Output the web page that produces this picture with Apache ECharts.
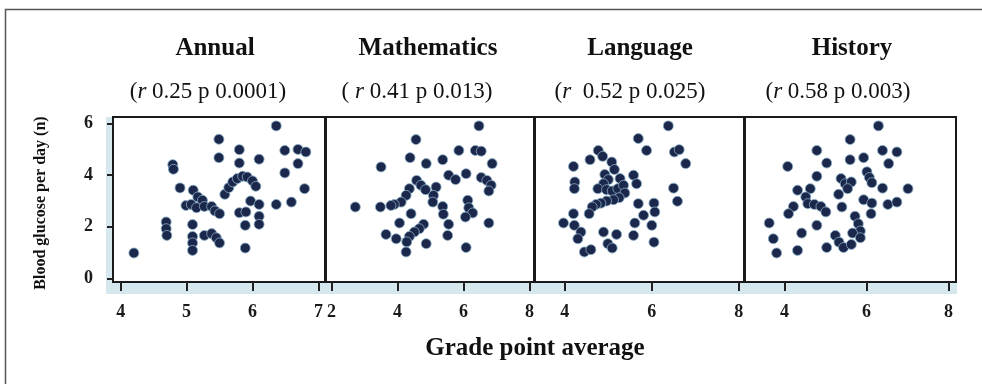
<!DOCTYPE html>
<html><head><meta charset="utf-8">
<script src="https://cdn.jsdelivr.net/npm/echarts@6/dist/echarts.min.js"></script>
<style>html,body{margin:0;padding:0;background:#fff}#c{width:982px;height:384px}</style>
</head><body><div id="c"></div>
<script>
const panelTitles = ['Annual', 'Mathematics', 'Language', 'History'];
const rValues = ['0.25', '0.41', '0.52', '0.58'];
const pValues = ['0.0001', '0.013', '0.025', '0.003'];
const xTicks = [[4, 5, 6, 7], [2, 4, 6, 8], [4, 6, 8], [4, 6, 8]];
const yTicks = [0, 2, 4, 6];
const xMins = [3.883, 1.83, 3.315, 3.04];
const xMaxs = [7.10, 8.14, 8.12, 8.18];
const yMin = -0.143, yMax = 6.244;
const yAxisTitle = 'Blood glucose per day (n)';
const xAxisTitle = 'Grade point average';

const annualPts = [
 [4.20,0.98],[6.36,5.90],[5.49,5.38],[5.49,4.67],[5.80,4.98],[5.80,4.46],[6.10,4.61],
 [4.79,4.40],[4.80,4.22],[4.90,3.50],[5.10,3.41],[5.17,3.15],[5.24,3.02],[4.99,2.82],
 [5.07,2.86],[5.15,2.73],[5.27,2.78],[5.38,2.78],[5.43,2.61],[5.50,2.50],[4.69,2.18],
 [4.69,1.92],[4.70,1.66],[5.09,2.08],[5.09,1.62],[5.09,1.37],[5.09,1.08],[5.27,1.66],
 [5.38,1.73],[5.45,1.57],[5.50,1.37],[5.89,1.17],[5.89,2.05],[5.80,2.54],[5.90,2.57],
 [6.10,2.40],[6.10,2.09],[5.97,2.99],[6.10,2.86],[5.58,3.25],[5.64,3.51],[5.70,3.73],
 [5.77,3.86],[5.85,3.95],[5.92,3.92],[6.00,3.77],[6.05,3.56],[6.36,2.86],[6.59,2.95],
 [6.79,3.47],[6.49,4.95],[6.49,4.08],[6.69,4.99],[6.81,4.89],[6.69,4.44]
];
const mathPts = [
 [2.72,2.76],[3.48,2.76],[3.50,4.31],[4.56,5.37],[4.38,4.67],[4.87,4.44],[5.37,4.59],
 [5.86,4.95],[6.36,4.95],[6.54,4.92],[6.47,5.90],[6.87,4.44],[5.55,3.99],[5.76,3.82],
 [6.08,4.05],[6.54,3.90],[6.71,3.79],[6.84,3.60],[6.77,3.38],[4.58,3.79],[4.71,3.60],
 [4.85,3.43],[4.36,3.47],[4.26,3.21],[4.11,2.95],[3.90,2.86],[3.80,2.82],[5.17,3.53],
 [5.09,3.21],[5.07,2.95],[4.41,2.50],[5.37,2.78],[5.39,2.48],[6.13,3.02],[6.16,2.73],
 [6.28,2.53],[6.06,2.37],[4.06,2.14],[4.79,2.09],[4.66,1.92],[4.51,1.79],[4.36,1.62],
 [4.28,1.41],[3.65,1.70],[3.96,1.53],[4.26,1.02],[4.87,1.34],[5.55,2.09],[5.52,1.66],
 [6.08,1.19],[6.77,2.14]
];
const langPts = [
 [6.38,5.90],[5.69,5.41],[5.88,4.95],[6.52,4.89],[6.63,4.98],[6.78,4.44],[6.50,3.49],
 [6.59,2.98],[4.20,4.33],[4.58,4.59],[4.77,4.95],[4.87,4.72],[5.08,4.50],[5.14,4.21],
 [4.92,4.02],[5.00,3.82],[4.89,3.66],[4.76,3.47],[4.96,3.43],[5.09,3.38],[5.22,3.47],
 [5.27,3.86],[5.35,3.60],[5.38,3.30],[5.25,3.12],[5.12,3.04],[4.96,2.99],[4.83,2.91],
 [4.72,2.86],[4.63,2.76],[4.56,2.50],[4.23,3.73],[4.22,3.47],[5.58,3.99],[5.65,3.66],
 [5.69,2.89],[6.05,2.91],[6.07,2.57],[5.81,2.44],[5.61,2.14],[6.00,2.05],[5.58,1.66],
 [6.05,1.40],[3.97,2.14],[4.20,2.50],[4.22,2.05],[4.37,1.79],[4.30,1.53],[4.45,1.02],
 [4.60,1.11],[4.89,1.79],[4.99,1.34],[5.09,1.17],[5.19,1.70]
];
const histPts = [
 [6.29,5.90],[5.60,5.37],[4.79,4.95],[4.08,4.33],[5.03,4.46],[5.60,4.59],[5.93,4.67],
 [6.39,4.95],[6.74,4.89],[6.54,4.44],[7.01,3.47],[6.39,3.49],[6.52,2.86],[6.74,2.95],
 [6.01,4.12],[6.07,3.90],[6.13,3.70],[5.38,3.86],[5.48,3.66],[5.63,3.73],[5.54,3.47],
 [5.32,3.25],[5.40,2.76],[4.79,3.95],[4.63,3.47],[4.32,3.41],[4.52,3.15],[4.57,2.89],
 [4.73,2.86],[4.89,2.78],[5.01,2.57],[4.22,2.78],[4.10,2.50],[5.93,3.04],[6.13,2.91],
 [6.11,2.50],[3.63,2.14],[3.73,1.53],[3.81,0.98],[4.32,1.08],[4.42,1.75],[4.79,2.05],
 [5.03,1.19],[5.24,1.66],[5.33,1.40],[5.44,1.19],[5.63,1.31],[5.72,2.40],[5.80,2.11],
 [5.85,1.83],[5.66,1.75],[5.85,1.57]
];
const panelData = [annualPts, mathPts, langPts, histPts];

const FONT = "'Liberation Serif','Times New Roman',serif";
const gridBoxes = [
  {left: 113, width: 212}, {left: 326, width: 208},
  {left: 535, width: 209}, {left: 745, width: 211}
];
const titleX = [215, 428, 640, 852];
const subX = [208, 417, 630, 838];

const grids = gridBoxes.map(g => ({
  left: g.left, width: g.width, top: 117, height: 165,
  show: true, backgroundColor: '#fff', borderColor: '#1a1a1a', borderWidth: 2
}));
const xAxes = panelData.map((_, i) => ({
  type: 'value', gridIndex: i, min: xMins[i], max: xMaxs[i],
  splitLine: {show: false},
  axisLine: {show: true, onZero: false, lineStyle: {color: '#1a1a1a', width: 2}},
  axisTick: {show: true, customValues: xTicks[i], length: 9, lineStyle: {color: '#222', width: 2}},
  axisLabel: {customValues: xTicks[i], margin: 21, color: '#1a1a1a', fontSize: 18, fontWeight: 'bold', fontFamily: FONT}
}));
const yAxes = panelData.map((_, i) => ({
  type: 'value', gridIndex: i, min: yMin, max: yMax,
  splitLine: {show: false},
  axisLine: {show: true, lineStyle: {color: '#1a1a1a', width: 2}},
  axisTick: {show: i === 0, customValues: yTicks, length: 6, lineStyle: {color: '#222', width: 2}},
  axisLabel: {show: i === 0, customValues: yTicks, margin: 20, color: '#1a1a1a', fontSize: 18, fontWeight: 'bold', fontFamily: FONT}
}));
const series = panelData.map((d, i) => ({
  type: 'scatter', xAxisIndex: i, yAxisIndex: i, data: d,
  symbol: 'circle', symbolSize: 10,
  itemStyle: {color: '#1c284b', borderColor: '#8aaec6', borderWidth: 0.8, opacity: 1},
  emphasis: {disabled: true}
}));

const graphics = [
  {type: 'rect', z: -10, shape: {x: 106, y: 282, width: 851, height: 12}, style: {fill: '#d4e8ee'}},
  {type: 'rect', z: -10, shape: {x: 106, y: 117, width: 7, height: 177}, style: {fill: '#d4e8ee'}},
  {type: 'polyline', z: -10, shape: {points: [[982, 9.5], [5.5, 9.5], [5.5, 384]]}, style: {stroke: '#555', lineWidth: 1.5, fill: null}}
];
panelTitles.forEach((t, i) => {
  graphics.push({type: 'text', x: titleX[i], y: 49, style: {
    text: t, fill: '#111', font: "bold 25px " + FONT, textAlign: 'center', textVerticalAlign: 'middle'}});
  const sp = i === 1 ? '( ' : '(';
  const sp2 = i === 2 ? '  ' : ' ';
  graphics.push({type: 'text', x: subX[i], y: 92, style: {
    text: '{n|' + sp + '}{i|r}{n|' + sp2 + rValues[i] + ' p ' + pValues[i] + ')}',
    textAlign: 'center', textVerticalAlign: 'middle', fill: '#111', fontSize: 23, fontFamily: FONT,
    rich: {
      n: {fontSize: 23, fontFamily: FONT, fill: '#111'},
      i: {fontSize: 23, fontFamily: FONT, fontStyle: 'italic', fill: '#111'}
    }}});
});
graphics.push({type: 'text', x: 41, y: 203, rotation: Math.PI / 2, style: {
  text: yAxisTitle, fill: '#111', font: "bold 16px " + FONT, textAlign: 'center', textVerticalAlign: 'middle'}});
graphics.push({type: 'text', x: 535, y: 349, style: {
  text: xAxisTitle, fill: '#111', font: "bold 25px " + FONT, textAlign: 'center', textVerticalAlign: 'middle'}});

const chart = echarts.init(document.getElementById('c'));
chart.setOption({
  backgroundColor: '#fff',
  animation: false,
  grid: grids, xAxis: xAxes, yAxis: yAxes, series: series,
  graphic: {elements: graphics}
});
</script></body></html>
